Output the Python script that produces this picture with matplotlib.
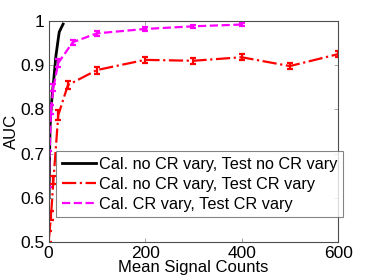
import numpy as np
import matplotlib
matplotlib.use("Agg")
import matplotlib.pyplot as plt
from matplotlib.lines import Line2D

plt.rcParams['font.family'] = ['Liberation Sans', 'DejaVu Sans']

# black: calibrated without CR variation, tested without CR variation
black_x = [1, 2, 3, 5, 8, 10, 15, 20, 22, 25, 30]
black_y = [0.60, 0.70, 0.76, 0.80, 0.84, 0.86, 0.92, 0.96, 0.975, 0.982, 0.993]

# red: calibrated without CR variation, tested with CR variation
red_x = [1, 5, 10, 20, 40, 100, 200, 300, 400, 500, 600]
red_y = [0.512, 0.56, 0.64, 0.787, 0.855, 0.889, 0.912, 0.910, 0.918, 0.898, 0.925]
red_err = [0.012, 0.01, 0.01, 0.012, 0.01, 0.008, 0.007, 0.007, 0.007, 0.007, 0.007]

# magenta: calibrated with CR variation, tested with CR variation
mag_x = [1, 5, 10, 20, 50, 100, 200, 300, 400]
mag_y = [0.665, 0.80, 0.85, 0.905, 0.952, 0.972, 0.982, 0.988, 0.992]
mag_err = [0.04, 0.01, 0.008, 0.008, 0.006, 0.005, 0.004, 0.004, 0.004]

labels = ["Cal. no CR vary, Test no CR vary",
          "Cal. no CR vary, Test CR vary",
          "Cal. CR vary, Test CR vary"]

fig = plt.figure(figsize=(3.74, 2.8), dpi=100)
ax = fig.add_axes([0.130, 0.136, 0.774, 0.789])

ax.plot(black_x, black_y, color='black', lw=2)
ax.errorbar(red_x, red_y, yerr=red_err, color='red', lw=1.6, ls='-.',
            capsize=2.5, elinewidth=1.6, capthick=1.6)
ax.errorbar(mag_x, mag_y, yerr=mag_err, color='magenta', lw=1.6, ls='--',
            capsize=2.5, elinewidth=1.6, capthick=1.6)

ax.set_xlim(0, 600)
ax.set_ylim(0.5, 1)
ax.set_xticks([0, 200, 400, 600])
ax.set_yticks([0.5, 0.6, 0.7, 0.8, 0.9, 1.0])
ax.set_yticklabels(["0.5", "0.6", "0.7", "0.8", "0.9", "1"])
ax.tick_params(direction='in', top=True, right=True, labelsize=12.5,
               length=3, width=0.5, color='0.5', pad=3)
for s in ax.spines.values():
    s.set_linewidth(0.8)
    s.set_color('0.3')

ax.set_xlabel("Mean Signal Counts", fontsize=12, labelpad=-1)
ax.set_ylabel("AUC", fontsize=12, labelpad=1)

handles = [Line2D([], [], color='black', lw=2),
           Line2D([], [], color='red', lw=1.6, ls='-.'),
           Line2D([], [], color='magenta', lw=1.6, ls='--')]
leg = ax.legend(handles, labels, loc='upper left', bbox_to_anchor=(0.025, 0.41),
                fontsize=11.7, frameon=True, fancybox=False,
                handlelength=2.1, handletextpad=0.2, borderpad=0.35,
                labelspacing=0.3, borderaxespad=0)
leg.get_frame().set_edgecolor('0.4')
leg.get_frame().set_linewidth(0.8)

fig.savefig("out.png", dpi=100)
